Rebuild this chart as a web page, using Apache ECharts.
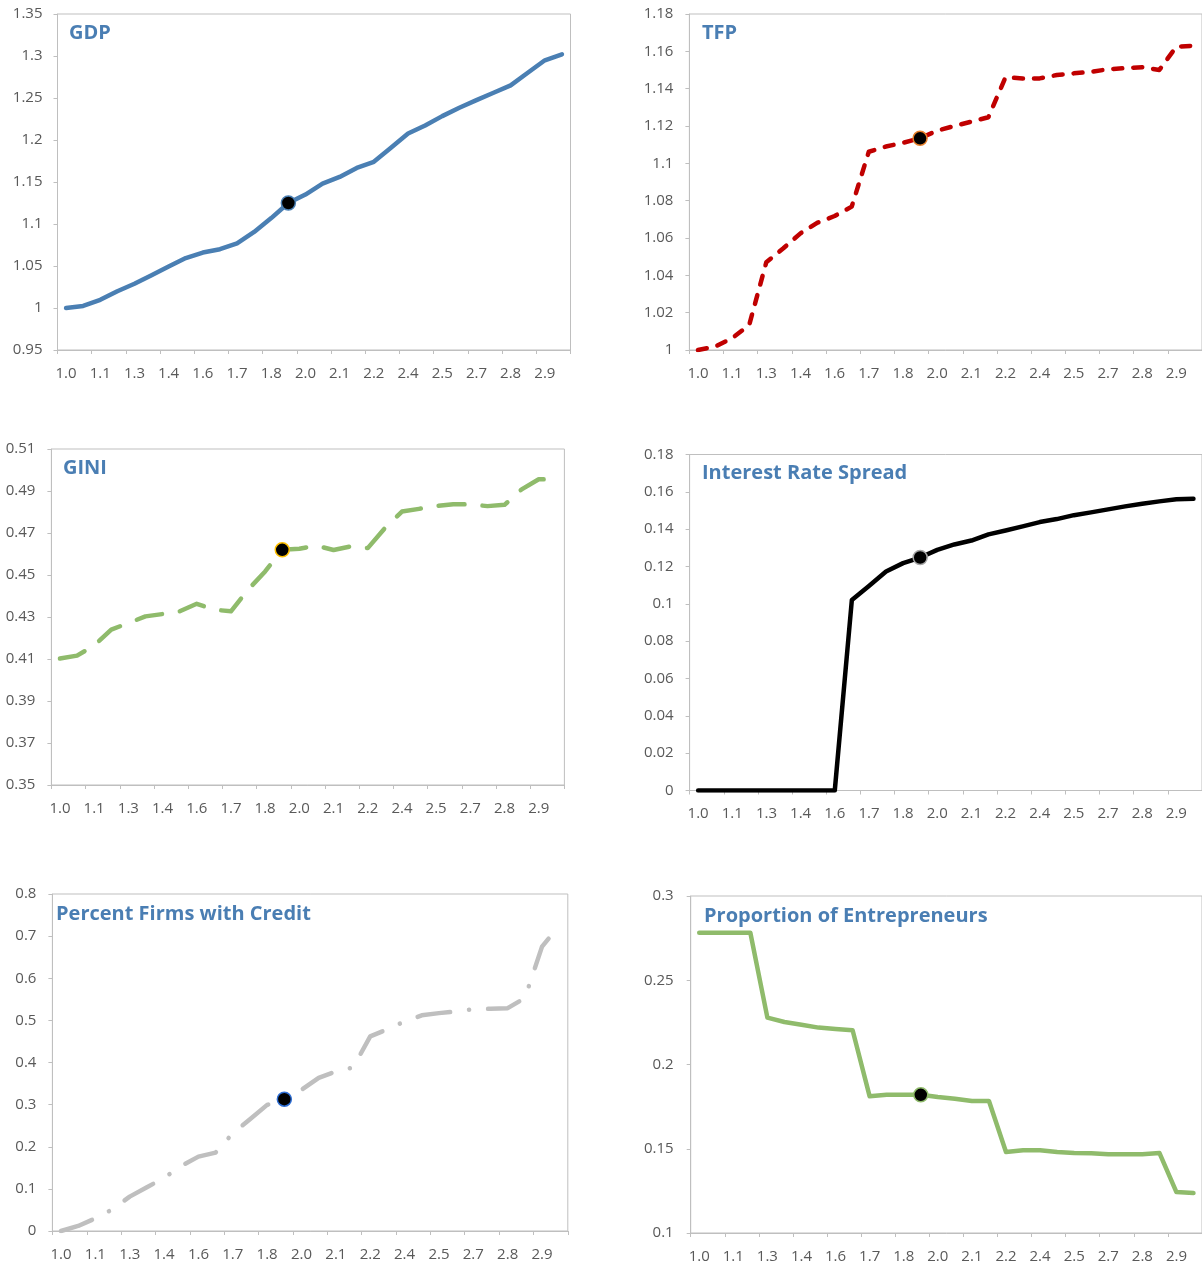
<!DOCTYPE html>
<html>
<head>
<meta charset="utf-8">
<script src="https://cdn.jsdelivr.net/npm/echarts@6/dist/echarts.min.js"></script>
<style>
html,body{margin:0;padding:0;background:#fff;}
#chart{width:1202px;height:1266px;}
</style>
</head>
<body>
<div id="chart"></div>
<script>
// ---- data ----
const categories = ['1.0','1.05','1.1','1.2','1.3','1.35','1.4','1.5','1.6','1.65','1.7','1.75','1.8','1.9','2.0','2.05','2.1','2.15','2.2','2.3','2.4','2.45','2.5','2.6','2.7','2.75','2.8','2.85','2.9','3.0'];
const baseIndex = 13;

const gdp = [1.000,1.0025,1.0097,1.020,1.0288,1.039,1.0494,1.0594,1.066,1.070,1.077,1.0905,1.107,1.125,1.135,1.148,1.156,1.1668,1.174,1.1907,1.2077,1.2173,1.2284,1.2384,1.2475,1.2563,1.265,1.280,1.2949,1.302];
const tfp = [1.000,1.0018,1.0063,1.0134,1.047,1.0545,1.0625,1.0682,1.0718,1.0768,1.1062,1.109,1.111,1.1134,1.1175,1.120,1.1223,1.1247,1.1461,1.1455,1.1455,1.1473,1.1482,1.149,1.1504,1.151,1.1515,1.150,1.1625,1.163];
const gini = [0.4102,0.4116,0.4164,0.424,0.4271,0.4303,0.4314,0.4327,0.4363,0.4335,0.4327,0.443,0.4517,0.462,0.4625,0.464,0.4619,0.4636,0.4628,0.4723,0.4802,0.4815,0.4828,0.4837,0.4836,0.4828,0.4834,0.4908,0.4956,0.4954];
const spread = [0,0,0,0,0,0,0,0,0,0.1021,0.1096,0.1173,0.1218,0.1248,0.1289,0.1318,0.1339,0.1372,0.1393,0.1415,0.1438,0.1454,0.1475,0.149,0.1506,0.1522,0.1536,0.1549,0.156,0.1563];
const firmsCredit = [0.0,0.012,0.030,0.0515,0.0816,0.1038,0.126,0.1545,0.1766,0.1861,0.232,0.2653,0.2994,0.3129,0.335,0.3636,0.3786,0.388,0.462,0.479,0.4974,0.512,0.5172,0.521,0.5267,0.5275,0.529,0.5529,0.675,0.725];
const entrepreneurs = [0.2782,0.2782,0.2782,0.2782,0.2278,0.2252,0.2236,0.2219,0.2211,0.2203,0.1811,0.1821,0.1821,0.182,0.1807,0.1797,0.1783,0.1783,0.1481,0.1491,0.1491,0.1481,0.1475,0.1473,0.1467,0.1467,0.1467,0.1475,0.1243,0.1237];

const gdpTicks = [0.95,1,1.05,1.1,1.15,1.2,1.25,1.3,1.35];
const tfpTicks = [1,1.02,1.04,1.06,1.08,1.1,1.12,1.14,1.16,1.18];
const giniTicks = [0.35,0.37,0.39,0.41,0.43,0.45,0.47,0.49,0.51];
const spreadTicks = [0,0.02,0.04,0.06,0.08,0.1,0.12,0.14,0.16,0.18];
const creditTicks = [0,0.1,0.2,0.3,0.4,0.5,0.6,0.7,0.8];
const entrepreneurTicks = [0.1,0.15,0.2,0.25,0.3];

const titles = ['GDP','TFP','GINI','Interest Rate Spread','Percent Firms with Credit','Proportion of Entrepreneurs'];

// ---- layout / style ----
const FONT = '"Open Sans", "Noto Sans", sans-serif';
const axisGray = '#bfbfbf';
const labelGray = '#595959';
const titleBlue = '#4a7eb3';

const panels = [
  {data: gdp, ticks: gdpTicks, grid:{left:57.5, top:14, width:513, height:336}, ylm:15,
   line:{color:'#4a7fb3', type:'solid'}, mk:'#4a7fb3', title:{x:69, y:33}},
  {data: tfp, ticks: tfpTicks, grid:{left:689.4, top:14, width:514.3, height:336}, ylm:16,
   line:{color:'#c00000', type:[9,11]}, mk:'#e8812c', title:{x:702, y:33}},
  {data: gini, ticks: giniTicks, grid:{left:51.4, top:449, width:513, height:336}, ylm:16,
   line:{color:'#8fbb6b', type:[26,18]}, mk:'#ffc000', title:{x:63, y:468}},
  {data: spread, ticks: spreadTicks, grid:{left:689.6, top:454.5, width:515, height:336}, ylm:16,
   line:{color:'#000000', type:'solid'}, mk:'#a6a6a6', title:{x:702, y:473}},
  {data: firmsCredit, ticks: creditTicks, grid:{left:52.4, top:894, width:515.4, height:337}, ylm:16,
   line:{color:'#bfbfbf', type:[33,19,0.1,19]}, mk:'#2f6fd6', title:{x:56, y:914}},
  {data: entrepreneurs, ticks: entrepreneurTicks, grid:{left:690.7, top:896, width:514.8, height:337}, ylm:17,
   line:{color:'#8fbb6b', type:'solid'}, mk:'#8fbb6b', title:{x:704, y:916}}
];

const fmt = v => String(Math.round(v * 10000) / 10000);

const option = {
  animation: false,
  backgroundColor: '#ffffff',
  grid: [], xAxis: [], yAxis: [], series: [], graphic: []
};

panels.forEach((p, i) => {
  option.grid.push(Object.assign({show:true, borderColor:axisGray, borderWidth:1, backgroundColor:'#fff'}, p.grid));
  option.xAxis.push({
    gridIndex:i, type:'category', data:categories, boundaryGap:true,
    axisLine:{show:true, lineStyle:{color:axisGray, width:1}},
    axisTick:{show:true, interval:1, length:4, lineStyle:{color:axisGray}},
    axisLabel:{interval:1, color:labelGray, fontFamily:FONT, fontSize:15, margin:16},
    splitLine:{show:false}
  });
  option.yAxis.push({
    gridIndex:i, type:'value', min:p.ticks[0], max:p.ticks[p.ticks.length-1],
    axisLine:{show:true, lineStyle:{color:axisGray, width:1}},
    axisTick:{show:true, length:4, lineStyle:{color:axisGray}, customValues:p.ticks},
    axisLabel:{color:labelGray, fontFamily:FONT, fontSize:15, margin:p.ylm, formatter:fmt, customValues:p.ticks},
    splitLine:{show:false}
  });
  option.series.push({
    type:'line', xAxisIndex:i, yAxisIndex:i, data:p.data, symbol:'none', smooth:false,
    lineStyle:{color:p.line.color, width:4.5, type:p.line.type, cap:'round', join:'round'},
    z:2
  });
  option.series.push({
    type:'scatter', xAxisIndex:i, yAxisIndex:i, data:[[baseIndex, p.data[baseIndex]]],
    symbol:'circle', symbolSize:14,
    itemStyle:{color:'#000000', borderColor:p.mk, borderWidth:1.5, opacity:1},
    z:3
  });
  option.graphic.push({
    type:'text', x:p.title.x, y:p.title.y, z:10,
    style:{text:titles[i], fill:titleBlue, font:'bold 20px ' + FONT, align:'left', verticalAlign:'middle'}
  });
});

const chart = echarts.init(document.getElementById('chart'), null, {renderer:'canvas'});
chart.setOption(option);
</script>
</body>
</html>
